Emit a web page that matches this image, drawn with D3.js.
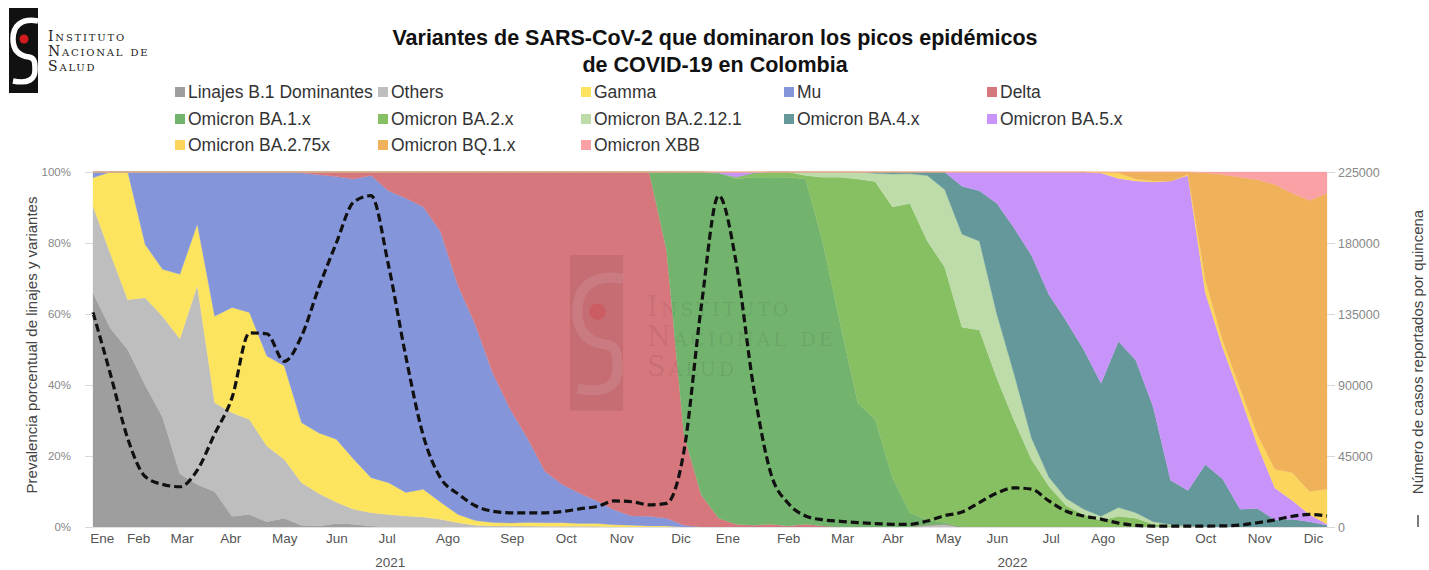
<!DOCTYPE html>
<html><head><meta charset="utf-8">
<script src="https://cdn.jsdelivr.net/npm/d3@7"></script>
<style>
body{margin:0;background:#fff;}
svg text{font-family:"Liberation Sans",Arial,sans-serif;}
</style>
</head><body>
<svg id="c" width="1429" height="570"></svg>
<script>
// ---------- DATA (72 periods, Ene 2021 - Dic 2022) ----------
const seriesNames = ["Linajes B.1 Dominantes","Others","Gamma","Mu","Delta","Omicron BA.1.x","Omicron BA.2.x","Omicron BA.2.12.1","Omicron BA.4.x","Omicron BA.5.x","Omicron BA.2.75x","Omicron BQ.1.x","Omicron XBB"];
const seriesColors = ["#9e9e9e","#bebebe","#fde45f","#8595d9","#d6777d","#72b36e","#87bf63","#bedca9","#65989b","#c994fa","#fcd55c","#f0b15b","#f9a1a4"];

const b1 = [66,56,50,40,31,15,12,10,3,3.5, 1.5,2.5,0.5,0.3,1,0.8,0.3,0,0,0,
  0,0,0,0,0,0,0,0,0,0, 0,0,0,0,0,0,0,0,0,0, 0,0,0,0,0,0,0,0,0,0, 0,0,0,0,0,0,0,0,0,0, 0,0,0,0,0,0,0,0,0,0, 0,0];
const others = [24.4,21,14,24.6,28.4,38,56,25,29.2,26.8, 21.3,16.6,12,9.1,6,4.2,3.7,3.5,3.1,2.8,
  2.2,1.2,0.5,0.3,0.3,0.3,0.2,0.2,0.2,0.2, 0,0,0,0,0,0,0,0,0,0, 0,0,0,0,0,0,0,0,0.5,0.8, 0,0,0,0,0,0,0,0,0,0, 0,0,0,0,0,0,0,0,0,0, 0,0];
const gamma = [8,23,36,15,13.2,18.2,17.3,24.4,29.6,30.1, 25.4,26.3,16.9,17,17.7,14.1,9.9,9,6.6,7.8,
  4.8,2.3,1.3,1,0.8,1,1,1,0.8,0.8, 0.6,0.5,0.3,0.3,0,0,0,0,0,0, 0,0,0,0,0,0,0,0,0,0, 0,0,0,0,0,0,0,0,0,0, 0,0,0,0,0,0,0,0,0,0, 0,0];
const mu = [1.6,0,0,20.4,27.4,28.8,14.7,40.6,38.2,39.6, 51.8,54.6,70.3,72.6,74,78.9,85.1,82.2,82.9,79.6,
  76.2,64.5,55.2,42,32,23.7,14.5,10.8,8.5,6.3, 4.2,2.6,2.7,2.2,0.5,0,0,0,0,0, 0,0,0,0,0,0,0,0,0,0, 0,0,0,0,0,0,0,0,0,0, 0,0,0,0,0,0,0,0,0,0, 0,0];
const delta = [0,0,0,0,0,0,0,0,0,0, 0,0,0.3,0.8,1.3,2,1,5.3,7.4,9.8,
  16.8,32,43,56.5,66.5,75,84.2,88,90.5,92.7, 95,96.8,97,75.5,25.5,9,2.5,0.8,0.5,0.8, 0.3,0.8,0.3,0,0,0,0,0,0,0, 0,0,0,0,0,0,0,0,0,0, 0,0,0,0,0,0,0,0,0,0, 0,0];
const ba1 = [0,0,0,0,0,0,0,0,0,0, 0,0,0,0,0,0,0,0,0,0, 0,0,0,0,0,0,0,0,0,0,
  0,0,0,22,74,91,97.2,97.3,98,97.7, 98.2,97.2,79.7,57,35,30.5,14,4,1.5,0.5, 0,0,0,0,0,0,0,0,0,0, 0,0,0,0,0,0,0,0,0,0, 0,0];
const ba2 = [0,0,0,0,0,0,0,0,0,0, 0,0,0,0,0,0,0,0,0,0, 0,0,0,0,0,0,0,0,0,0,
  0,0,0,0,0,0,0,0.5,1.2,1.5, 1.5,1,18.5,41.5,63,67.2,76.7,87.6,79,72.5, 56.3,55.5,42,30,19,11.5,6,3.5,1.8,3, 2.5,0.8,0.3,0,0,0,0,0,0,0, 0,0];
const ba2121 = [0,0,0,0,0,0,0,0,0,0, 0,0,0,0,0,0,0,0,0,0, 0,0,0,0,0,0,0,0,0,0, 0,0,0,0,0,0,0,0,0,0,
  0,1,1.5,1.5,2,2.3,9.3,8.4,18.5,22, 26.2,25,18,13,6,2.5,2,1.5,1.2,2.5, 1.5,0.7,0.4,0.3,0,0,0,0,0,0, 0,0];
const ba4 = [0,0,0,0,0,0,0,0,0,0, 0,0,0,0,0,0,0,0,0,0, 0,0,0,0,0,0,0,0,0,0, 0,0,0,0,0,0,0,0,0,0,
  0,0,0,0,0,0.4,0.6,0.5,1,5, 13.5,14.2,31.2,41.2,51.5,51.5,50,45,37.5,46.8, 43,32.3,12.5,10,17.6,13.5,5,5.2,2,2.2, 1.5,0.5];
const ba5 = [0,0,0,0,0,0,0,0,0,0, 0,0,0,0,0,0,0,0,0,0, 0,0,0,0,0,0,0,0,0,0, 0,0,0,0,0,0,0.3,1.4,0.3,0,
  0,0,0,0,0,0,0,0,0,0, 4,5.3,8.8,15.8,23.5,34.5,42,50,59.2,45.9, 50.5,63.4,84.3,88.7,48.4,37,32,17.8,9,5.3, 2,0.3];
const ba275 = [0,0,0,0,0,0,0,0,0,0, 0,0,0,0,0,0,0,0,0,0, 0,0,0,0,0,0,0,0,0,0, 0,0,0,0,0,0,0,0,0,0,
  0,0,0,0,0,0,0,0,0,0, 0,0,0,0,0,0,0,0,0.3,1.5, 0.5,0.3,0,0.3,3.5,2,2,3,5.3,7.8, 6.5,9.8];
const bq1 = [0,0,0,0,0,0,0,0,0,0, 0,0,0,0,0,0,0,0,0,0, 0,0,0,0,0,0,0,0,0,0, 0,0,0,0,0,0,0,0,0,0,
  0,0,0,0,0,0,0,0,0,0, 0,0,0,0,0,0,0,0,0,0.3, 2,2.5,2.5,0.7,30.3,46.8,59.5,71.8,80.2,78.7, 82,83.4];
const xbb = [0,0,0,0,0,0,0,0,0,0, 0,0,0,0,0,0,0,0,0,0, 0,0,0,0,0,0,0,0,0,0, 0,0,0,0,0,0,0,0,0,0,
  0,0,0,0,0,0,0,0,0,0, 0,0,0,0,0,0,0,0,0,0, 0,0,0,0,0.2,0.7,1.5,2.2,3.5,6, 8,6];

const cases = [136000,97000,56000,32000,27000,25500,36000,59000,82000,123000,
  122500,105000,121000,152000,180000,206000,210000,166000,108000,58000,
  31000,21000,13500,10000,9000,9000,9000,9800,11500,13000,
  16500,16000,14000,15000,48000,140000,210000,168000,89000,34000,
  15000,7000,4500,3600,2800,2200,1700,1700,3800,7200,
  9500,15500,21500,24800,24000,16500,10000,7000,5000,2500,
  1000,600,600,600,600,700,1200,2700,4500,6800,
  8000,7000];

const monthLabels = ["Ene","Feb","Mar","Abr","May","Jun","Jul","Ago","Sep","Oct","Nov","Dic",
                     "Ene","Feb","Mar","Abr","May","Jun","Jul","Ago","Sep","Oct","Nov","Dic"];
const monthAt = [0.5,2.6,5.1,7.9,11.0,14.0,16.9,20.4,24.1,27.2,30.4,33.8,
                 36.5,40.0,43.1,46.0,49.2,52.0,55.1,58.1,61.2,64.0,67.1,70.2];
const yearLabels = ["2021","2022"];
const yearAt = [17.1, 52.9];
const pctTicks = [0,0.2,0.4,0.6,0.8,1];
const caseTicks = [0,45000,90000,135000,180000,225000];

// ---------- BUILD ----------
const seriesData = [b1,others,gamma,mu,delta,ba1,ba2,ba2121,ba4,ba5,ba275,bq1,xbb];
const rows = b1.map((_,i)=>{const r={i:i};seriesNames.forEach((n,k)=>r[n]=seriesData[k][i]);return r;});

const svg = d3.select("#c");
const L=93,R=1327,T=172,B=527;
const x = d3.scaleLinear().domain([0,b1.length-1]).range([L,R]);
const yP = d3.scaleLinear().domain([0,1]).range([B,T]);
const yC = d3.scaleLinear().domain([0,225000]).range([B,T]);
const SERIF = "'DejaVu Serif','Liberation Serif',serif";

// title
svg.append("text").attr("x",715).attr("y",45).attr("text-anchor","middle")
  .attr("font-size",21.5).attr("font-weight","bold").attr("fill","#111")
  .text("Variantes de SARS-CoV-2 que dominaron los picos epidémicos");
svg.append("text").attr("x",715).attr("y",72).attr("text-anchor","middle")
  .attr("font-size",21.5).attr("font-weight","bold").attr("fill","#111")
  .text("de COVID-19 en Colombia");

// logo
function drawLogo(g, dark, white, red, op){
  g.append("rect").attr("x",0).attr("y",0).attr("width",29).attr("height",85).attr("fill",dark).attr("fill-opacity",op[0]);
  g.append("path").attr("d","M29,13 C12,10 4,18 4,31 C4,44 12,48 20,49 C26,50 26,55 26,62 C26,71 20,76 4,73")
    .attr("fill","none").attr("stroke",white).attr("stroke-opacity",op[1]).attr("stroke-width",5.5);
  g.append("circle").attr("cx",15).attr("cy",31).attr("r",4.5).attr("fill",red).attr("fill-opacity",op[2]);
}
const lg = svg.append("g").attr("transform","translate(9,8)");
drawLogo(lg,"#111","#fff","#d01c1c",[1,1,1]);
["Instituto","Nacional de","Salud"].forEach((t,k)=>{
  svg.append("text").attr("x",48).attr("y",41+k*15)
   .style("font-family",SERIF)
   .attr("font-size",14).style("font-variant","small-caps")
   .attr("letter-spacing",1.8).attr("fill","#222").text(t);
});

// legend
const legCols=[177,380,583,786,989], legRows=[98,125,151];
seriesNames.forEach((n,k)=>{
  const cx=legCols[k%5], cy=legRows[Math.floor(k/5)];
  svg.append("rect").attr("x",cx-2).attr("y",cy-11).attr("width",10).attr("height",10).attr("fill",seriesColors[k]);
  svg.append("text").attr("x",cx+11).attr("y",cy).attr("font-size",17.5).attr("fill","#333").text(n);
});

// stacked areas
const stack = d3.stack().keys(seriesNames).offset(d3.stackOffsetExpand);
const layers = stack(rows);
const area = d3.area().x(d=>x(d.data.i)).y0(d=>yP(d[0])).y1(d=>yP(d[1]));
svg.append("g").selectAll("path").data(layers).join("path")
  .attr("d",area).attr("fill",(d,k)=>seriesColors[k]).attr("stroke",(d,k)=>seriesColors[k]).attr("stroke-width",0.3);

// watermark
const wg = svg.append("g").attr("transform","translate(570,255) scale(1.83)");
drawLogo(wg,"#000","#fff","#e03030",[0.08,0.10,0.25]);
["Instituto","Nacional de","Salud"].forEach((t,k)=>{
  svg.append("text").attr("x",647).attr("y",316+k*30)
   .style("font-family",SERIF)
   .attr("font-size",27).style("font-variant","small-caps")
   .attr("letter-spacing",3).attr("fill","#000").attr("fill-opacity",0.08).text(t);
});

// baseline
svg.append("line").attr("x1",85).attr("x2",R+8).attr("y1",B+0.5).attr("y2",B+0.5).attr("stroke","#e2e2e2");

// dashed cases line
const line = d3.line().x((d,i)=>x(i)).y(d=>yC(d)).curve(d3.curveMonotoneX);
svg.append("path").datum(cases).attr("d",line).attr("fill","none")
  .attr("stroke","#111").attr("stroke-width",3.2).attr("stroke-dasharray","8,4");

// left axis
const ax = svg.append("g").attr("transform",`translate(${L},0)`)
  .call(d3.axisLeft(yP).tickValues(pctTicks).tickFormat(d3.format(".0%")).tickSize(8).tickPadding(14));
ax.select(".domain").remove();
ax.selectAll("line").attr("stroke","#d9d9d9");
ax.selectAll("text").attr("font-size",11.5).attr("fill","#888").style("font-family","'Liberation Sans',Arial,sans-serif");

// right axis
const ar = svg.append("g").attr("transform",`translate(${R},0)`)
  .call(d3.axisRight(yC).tickValues(caseTicks).tickFormat(d3.format("d")).tickSize(8).tickPadding(3));
ar.select(".domain").remove();
ar.selectAll("line").attr("stroke","#d9d9d9");
ar.selectAll("text").attr("font-size",12.5).attr("fill","#888").style("font-family","'Liberation Sans',Arial,sans-serif");

// bottom axis (months)
const ab = svg.append("g").attr("transform",`translate(0,${B})`)
  .call(d3.axisBottom(x).tickValues(monthAt).tickFormat((d,i)=>monthLabels[i]).tickSize(0).tickPadding(6.5));
ab.select(".domain").remove();
ab.selectAll("text").attr("font-size",13.5).attr("fill","#555").style("font-family","'Liberation Sans',Arial,sans-serif");
yearLabels.forEach((t,k)=>{
  svg.append("text").attr("x",x(yearAt[k])).attr("y",567).attr("text-anchor","middle")
    .attr("font-size",13.5).attr("fill","#555").text(t);
});

// axis titles
svg.append("text").attr("transform","translate(37,345) rotate(-90)").attr("text-anchor","middle")
  .attr("font-size",15).attr("fill","#444").text("Prevalencia porcentual de linajes y variantes");
svg.append("line").attr("x1",1418).attr("x2",1418).attr("y1",515).attr("y2",527).attr("stroke","#333").attr("stroke-width",1.3);
svg.append("text").attr("transform","translate(1423,352) rotate(-90)").attr("text-anchor","middle")
  .attr("font-size",15).attr("fill","#444").text("Número de casos reportados por quincena");
</script>
</body></html>
